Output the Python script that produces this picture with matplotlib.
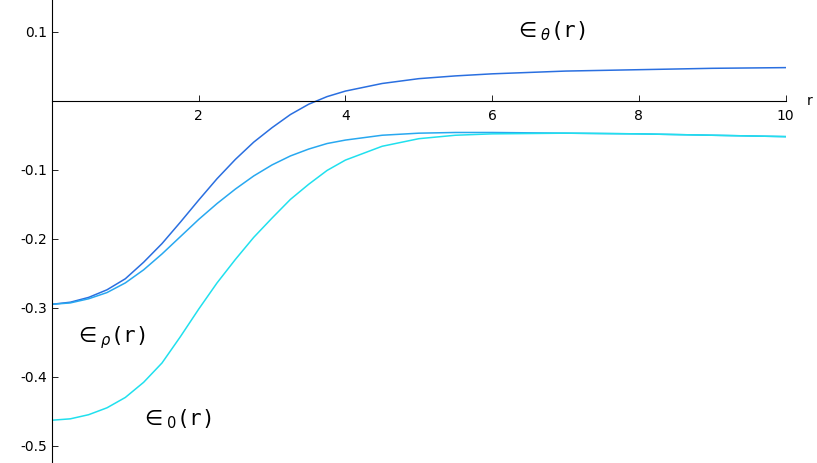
import matplotlib
matplotlib.use("Agg")
import matplotlib.pyplot as plt

r = [0, 0.25, 0.5, 0.75, 1, 1.25, 1.5, 1.75, 2, 2.25, 2.5, 2.75, 3, 3.25, 3.5, 3.75, 4, 4.5, 5, 5.5, 6, 7, 8, 9, 10]
eps_theta = [-0.295, -0.292, -0.285, -0.274, -0.258, -0.234, -0.207, -0.176, -0.144, -0.113, -0.085, -0.060, -0.039, -0.020, -0.005, 0.006, 0.014, 0.025, 0.032, 0.036, 0.039, 0.043, 0.045, 0.047, 0.048]
eps_rho = [-0.295, -0.293, -0.287, -0.278, -0.264, -0.245, -0.222, -0.197, -0.172, -0.149, -0.128, -0.109, -0.093, -0.080, -0.070, -0.062, -0.057, -0.050, -0.047, -0.046, -0.046, -0.047, -0.048, -0.050, -0.052]
eps_0 = [-0.463, -0.461, -0.455, -0.445, -0.430, -0.408, -0.380, -0.342, -0.302, -0.264, -0.230, -0.198, -0.170, -0.143, -0.121, -0.101, -0.086, -0.066, -0.055, -0.050, -0.048, -0.047, -0.048, -0.050, -0.052]
xticks = [2, 4, 6, 8, 10]
yticks = [0.1, -0.1, -0.2, -0.3, -0.4, -0.5]

fig = plt.figure(figsize=(8.17, 4.63), dpi=100)
ax = fig.add_axes([0.0636, 0.0, 0.898, 1.0])
ax.plot(r, eps_theta, color="#2a6fe0", lw=1.1)
ax.plot(r, eps_rho, color="#28a8f0", lw=1.1)
ax.plot(r, eps_0, color="#20e0ee", lw=1.1)
ax.set_xlim(0, 10)
ax.set_ylim(-0.525, 0.146)
for s in ["top", "right"]:
    ax.spines[s].set_visible(False)
ax.spines["left"].set_position(("data", 0))
ax.spines["bottom"].set_position(("data", 0))
ax.spines["bottom"].set_bounds(0, 10)
ax.set_xticks(xticks)
ax.set_xticklabels([str(v) for v in xticks], fontsize=10)
ax.set_yticks(yticks)
ax.set_yticklabels([f"{v:g}" for v in yticks], fontsize=10)
ax.tick_params(direction="in", length=4, width=0.6)
ax.tick_params(axis="x", pad=6)
ax.text(10.33, 0.0, "r", fontsize=10, ha="center", va="center", clip_on=False)
ax.text(6.3, 0.092, r"$\in_\theta$(r)", fontsize=15, family="DejaVu Sans Mono")
ax.text(0.3, -0.35, r"$\in_\rho$(r)", fontsize=15, family="DejaVu Sans Mono")
ax.text(1.2, -0.47, r"$\in_0$(r)", fontsize=15, family="DejaVu Sans Mono")
fig.savefig("out.png", dpi=100)
